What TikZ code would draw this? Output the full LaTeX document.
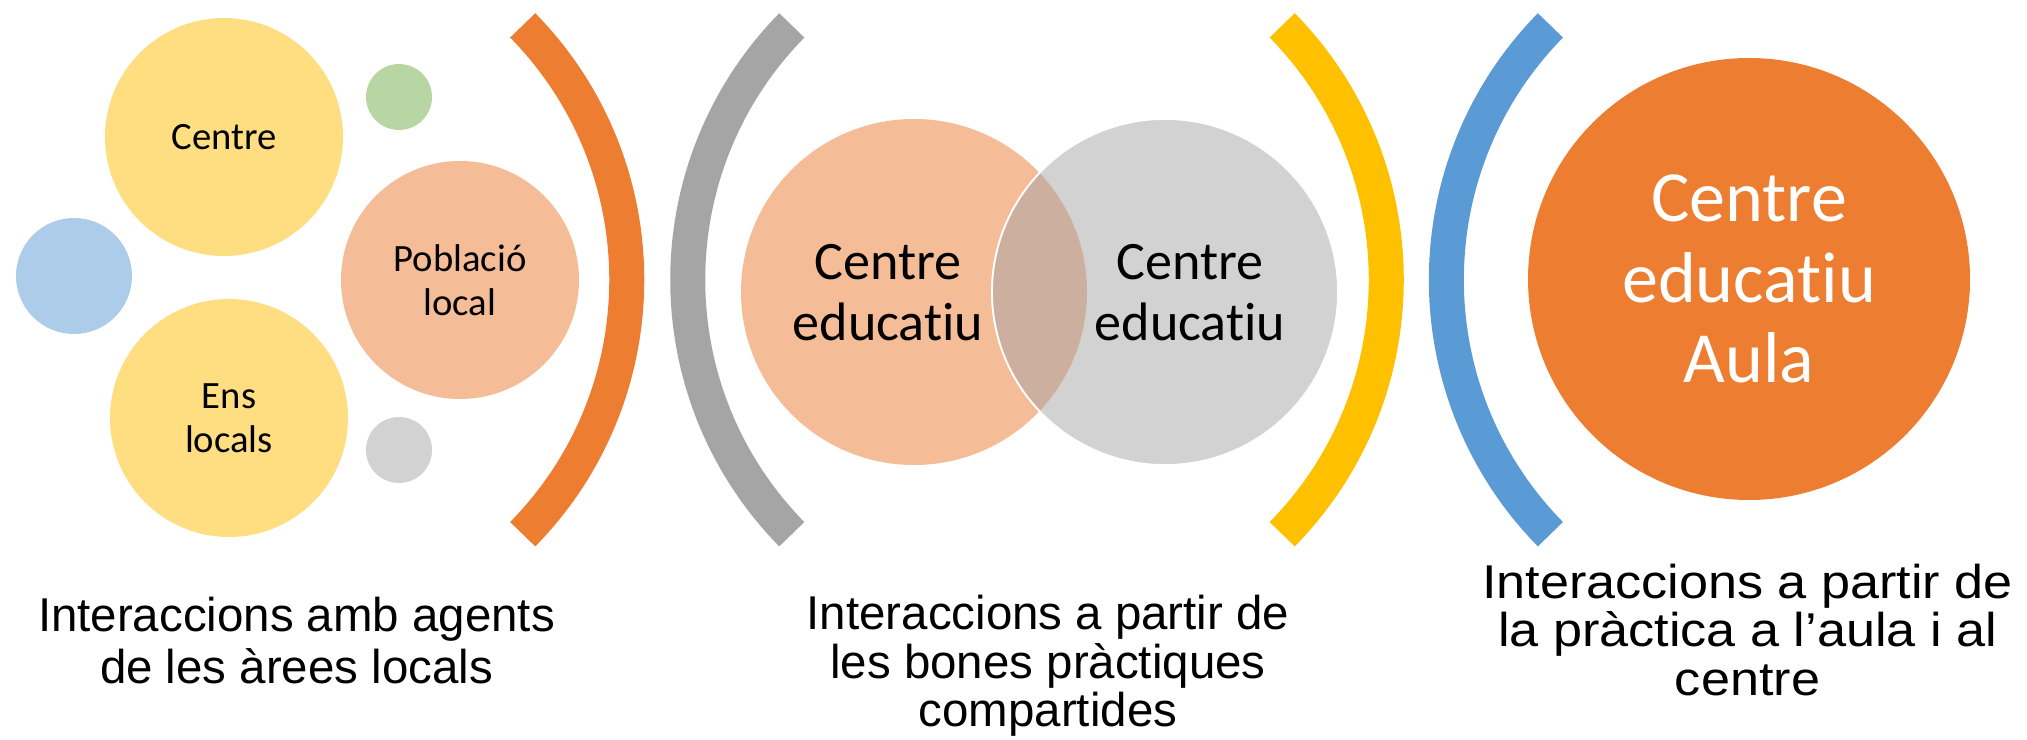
\documentclass[tikz,border=0pt]{standalone}
\usepackage{fontspec}
\setmainfont{Liberation Sans}
\newfontfamily\calibri[Ligatures=NoCommon]{Carlito}
\newfontfamily\ampla[FakeStretch=1.1]{Liberation Sans}
\definecolor{groc}{HTML}{FFDE82}
\definecolor{salmo}{HTML}{F5BD97}
\definecolor{blauclar}{HTML}{ADCCEA}
\definecolor{verdclar}{HTML}{B8D6A4}
\definecolor{grisclar}{HTML}{D2D2D2}
\definecolor{lent}{HTML}{CCAF9E}
\definecolor{taronja}{HTML}{ED7D31}
\definecolor{gris}{HTML}{A5A5A5}
\definecolor{or}{HTML}{FFC000}
\definecolor{blau}{HTML}{5B9BD5}

\begin{document}
\begin{tikzpicture}[scale=1]
 \tikzstyle{bolla}=[circle, inner sep=0pt, align=center, text=black, font=\calibri\fontsize{11}{12.5}\selectfont]
 \tikzstyle{venn}=[circle, inner sep=0pt, minimum size=3.46cm]
 \tikzstyle{textvenn}=[align=center, anchor=base, font=\calibri\fontsize{15.4}{17.4}\selectfont]
 \tikzstyle{peu}=[align=center, anchor=base, font=\fontsize{13.5}{14.6}\selectfont]
 \tikzstyle{corba}=[line width=0.35cm]
 %
 \useasboundingbox (0,0) rectangle (20.27,7.39);
 %
 \node[bolla, fill=groc, minimum size=2.38cm] (Cen) at (2.24, 6.02) {Centre};
 \node[bolla, fill=groc, minimum size=2.38cm] (Ens) at (2.29, 3.21) {Ens\\locals};
 \node[bolla, fill=salmo, minimum size=2.38cm] (Pob) at (4.60, 4.59) {Població\\local};
 \node[bolla, fill=blauclar, minimum size=1.16cm] (B1) at (0.74, 4.63) {};
 \node[bolla, fill=verdclar, minimum size=0.66cm] (B2) at (3.99, 6.42) {};
 \node[bolla, fill=grisclar, minimum size=0.66cm] (B3) at (3.99, 2.89) {};
 %
 \coordinate (O1) at (2.638, 4.592);
 \coordinate (O2) at (10.507, 4.592);
 \coordinate (O3) at (10.233, 4.592);
 \coordinate (O4) at (18.093, 4.592);
 \draw[corba, taronja] (O1) ++(-44.5:3.63) arc[start angle=-44.5, end angle=44.5, radius=3.63];
 \draw[corba, gris] (O2) ++(135.5:3.63) arc[start angle=135.5, end angle=224.5, radius=3.63];
 \draw[corba, or] (O3) ++(-44.5:3.63) arc[start angle=-44.5, end angle=44.5, radius=3.63];
 \draw[corba, blau] (O4) ++(135.5:3.63) arc[start angle=135.5, end angle=224.5, radius=3.63];
 %
 \node[venn, fill=salmo] (VE) at (9.14, 4.47) {};
 \node[venn, fill=grisclar, draw=white, line width=0.5pt] (VD) at (11.65, 4.47) {};
 \begin{scope}
  \clip (VE.center) circle (1.73);
  \fill[lent] (VD.center) circle (1.73);
  \draw[white, line width=0.5pt] (VD.center) circle (1.73);
 \end{scope}
 \node[textvenn] (TE) at (8.88, 3.98) {Centre\\educatiu};
 \node[textvenn] (TD) at (11.90, 3.98) {Centre\\educatiu};
 %
 \node[bolla, fill=taronja, text=white, minimum size=4.42cm, font=\calibri\fontsize{20.5}{23}\selectfont] (Aula) at (17.49, 4.60) {Centre\\educatiu\\Aula};
 %%
 \node[peu] (P1) at (2.965, 0.56) {Interaccions amb agents\\de les àrees locals};
 \node[peu, font=\fontsize{13.5}{13.8}\selectfont] (P2) at (10.48, 0.123) {Interaccions a partir de\\les bones pràctiques\\compartides};
 \node[peu, font=\ampla\fontsize{13.5}{13.7}\selectfont] (P3) at (17.475, 0.44) {Interaccions a partir de\\la pràctica a l’aula i al\\centre};
\end{tikzpicture}
\end{document}
